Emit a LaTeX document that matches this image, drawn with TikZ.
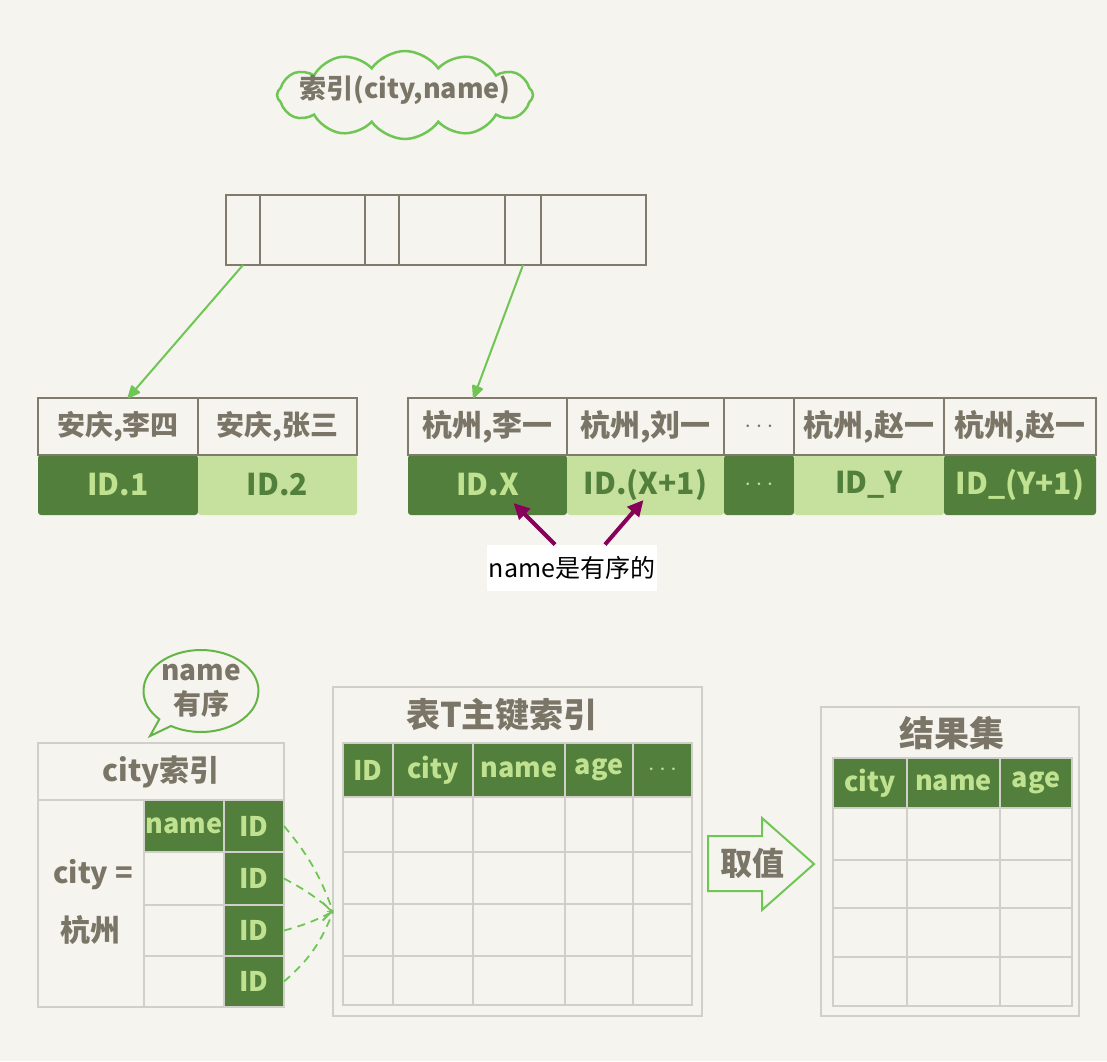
\documentclass[tikz,border=0pt]{standalone}
\usepackage{fontspec}
\setmainfont{Noto Sans CJK SC}
\usetikzlibrary{shapes.symbols,shapes.callouts,arrows.meta,calc}
\definecolor{bg}{RGB}{245,244,239}
\definecolor{ink}{RGB}{122,117,102}
\definecolor{dkg}{RGB}{82,128,60}
\definecolor{ltg}{RGB}{198,224,158}
\definecolor{txtlt}{RGB}{192,226,144}
\definecolor{brt}{RGB}{112,198,84}
\definecolor{bubg}{RGB}{100,180,70}
\definecolor{boxline}{RGB}{128,123,108}
\definecolor{gridc}{RGB}{208,207,202}
\definecolor{purp}{RGB}{135,0,90}
\newcommand{\myfs}[1]{\fontsize{#1}{#1}\selectfont\bfseries}
\newcommand{\cellat}[7]{\node[#6, minimum width={(#4)-(#2)}, minimum height={(#5)-(#3)}] (#1) at ({((#2)+(#4))/2},{((#3)+(#5))/2}) {#7};}
\begin{document}
\begin{tikzpicture}[x=1pt,y=-1pt,
  every node/.style={inner sep=0pt, outer sep=0pt},
  topcell/.style={draw=boxline, line width=2.4pt},
  hdcell/.style={draw=boxline, line width=2pt, text=ink, font=\myfs{28}},
  hdcellr/.style={hdcell, font=\myfs{30}},
  dkcell/.style={fill=dkg, text=txtlt, font=\myfs{30}, rounded corners=3pt},
  ltcell/.style={fill=ltg, text=dkg, font=\myfs{30}, rounded corners=3pt},
  gridcell/.style={draw=gridc, line width=2pt},
  ghead/.style={gridcell, fill=dkg, text=txtlt, font=\myfs{27}},
  outerbox/.style={draw=gridc, line width=2pt},
  grnarrow/.style={draw=brt, line width=2pt, -{Triangle[length=14pt,width=12pt,round]}},
  purparrow/.style={draw=purp, line width=4pt, -{Triangle[length=16pt,width=15pt]}},
  dasharrow/.style={draw=brt, line width=1.8pt, dash pattern=on 8pt off 6pt},
  title/.style={text=ink}
]
\useasboundingbox (0,0) rectangle (1107,1061);
\fill[bg] (0,0) rectangle (1107,1061);

% cloud
\node[cloud, draw=brt, line width=2.5pt, cloud puffs=12, cloud puff arc=110, aspect=2.8,
      minimum width=256pt, minimum height=88pt] (cloud) at (405,95) {};
\node[title, font=\myfs{27}] (cloudtxt) at (405,90) {索引(city,name)};

% top index block
\cellat{t1}{226}{195}{260}{265}{topcell}{}
\cellat{t2}{260}{195}{365}{265}{topcell}{}
\cellat{t3}{365}{195}{399}{265}{topcell}{}
\cellat{t4}{399}{195}{505}{265}{topcell}{}
\cellat{t5}{505}{195}{541}{265}{topcell}{}
\cellat{t6}{541}{195}{646}{265}{topcell}{}

% left leaf
\cellat{l1g}{38}{455}{198}{515}{dkcell}{ID.1}
\cellat{l2g}{198}{455}{357}{515}{ltcell}{ID.2}
\cellat{l1}{38}{398}{198}{455}{hdcell}{安庆,李四}
\cellat{l2}{198}{398}{357}{455}{hdcell}{安庆,张三}

% right leaf
\cellat{r1g}{408}{455}{567}{515}{dkcell}{ID.X}
\cellat{r2g}{567}{455}{724}{515}{ltcell}{ID.(X+1)}
\cellat{r3g}{724}{455}{794}{515}{dkcell}{$\cdots$}
\cellat{r4g}{794}{455}{944}{515}{ltcell}{ID\_Y}
\cellat{r5g}{944}{455}{1096}{515}{dkcell}{ID\_(Y+1)}
\cellat{r1}{408}{398}{567}{455}{hdcellr}{杭州,李一}
\cellat{r2}{567}{398}{724}{455}{hdcellr}{杭州,刘一}
\cellat{r3}{724}{398}{794}{455}{hdcellr}{$\cdots$}
\cellat{r4}{794}{398}{944}{455}{hdcellr}{杭州,赵一}
\cellat{r5}{944}{398}{1096}{455}{hdcellr}{杭州,赵一}

\draw[grnarrow] (t1.south) -- ($(l1.north)+(10,0)$);
\draw[grnarrow] (t5.south) -- ($(r1.north)+(-14,0)$);

% annotation
\node[fill=white, minimum width=170pt, minimum height=46pt, font=\fontsize{25}{25}\selectfont, text=black] (ann) at (572,567.5) {name是有序的};
\draw[purparrow] ($(ann.north)+(-17,0)$) -- ($(r1g.center)+(26,18)$);
\draw[purparrow] ($(ann.north)+(33,0)$) -- ($(r2g.center)+(-2,15)$);

% bottom left: city index
\cellat{cbox}{38}{743}{284}{1007}{outerbox}{}
\cellat{chead}{38}{743}{284}{800}{outerbox, title, font=\myfs{30}}{city索引}
\cellat{cleft}{38}{800}{144}{1007}{outerbox}{}
\node[title, font=\myfs{29}] (ceq) at (93,875) {city =};
\node[title, font=\myfs{30}] (chz) at (90,930) {杭州};
\cellat{cn1}{144}{800}{224}{852}{ghead}{name}
\cellat{cn2}{144}{852}{224}{905}{gridcell}{}
\cellat{cn3}{144}{905}{224}{956}{gridcell}{}
\cellat{cn4}{144}{956}{224}{1007}{gridcell}{}
\cellat{id1}{224}{800}{284}{852}{ghead}{ID}
\cellat{id2}{224}{852}{284}{905}{ghead}{ID}
\cellat{id3}{224}{905}{284}{956}{ghead}{ID}
\cellat{id4}{224}{956}{284}{1007}{ghead}{ID}

% speech bubble
\node[ellipse callout, draw=bubg, line width=2pt, minimum width=115pt, minimum height=82pt,
      callout absolute pointer={(150,736)}, align=center, text=ink, font=\myfs{28}] (bub) at (201,691) {name\\[6pt]有序};

% middle table
\cellat{mbox}{333}{687}{702}{1016}{outerbox}{}
\node[title, font=\myfs{34}] (mtitle) at (502,715) {表T主键索引};
\foreach [count=\c] \xa/\xb/\t in {343/393/ID,393/473/city,473/565/name,565/633/age,633/692/$\cdots$} {
  \cellat{mh-\c}{\xa}{743}{\xb}{797}{ghead}{\t}
  \foreach [count=\r] \ya/\yb in {797/852,852/904,904/956,956/1005} {
    \cellat{m-\r-\c}{\xa}{\ya}{\xb}{\yb}{gridcell}{}
  }
}
\coordinate (conv) at ($(mbox.west)+(0,60)$);
\draw[dasharrow] (id1.east) to[bend left=10] (conv);
\draw[dasharrow] (id2.east) to[bend left=6] (conv);
\draw[dasharrow] (id3.east) to[bend right=6] (conv);
\draw[dasharrow] (id4.east) to[bend right=14] (conv);
\draw[draw=brt, line width=1.8pt, -{Straight Barb[length=9pt,width=18pt]}] ($(conv)+(-6,0)$) -- (conv);

% arrow 取值
\draw[draw=brt, line width=2pt, line join=miter] (708,836) -- (762,836) -- (762,818) -- (814,864) -- (762,910) -- (762,891) -- (708,891) -- cycle;
\node[title, font=\myfs{32}] (qz) at (752,863) {取值};

% right table
\cellat{rbox}{821}{707}{1079}{1016}{outerbox}{}
\node[title, font=\myfs{35}] (rtitle) at (952,733) {结果集};
\foreach [count=\c] \xa/\xb/\t in {833/907/city,907/1000/name,1000/1072/age} {
  \cellat{rh-\c}{\xa}{758}{\xb}{808}{ghead}{\t}
  \foreach [count=\r] \ya/\yb in {808/860,860/908,908/957,957/1006} {
    \cellat{rr-\r-\c}{\xa}{\ya}{\xb}{\yb}{gridcell}{}
  }
}
\end{tikzpicture}
\end{document}
